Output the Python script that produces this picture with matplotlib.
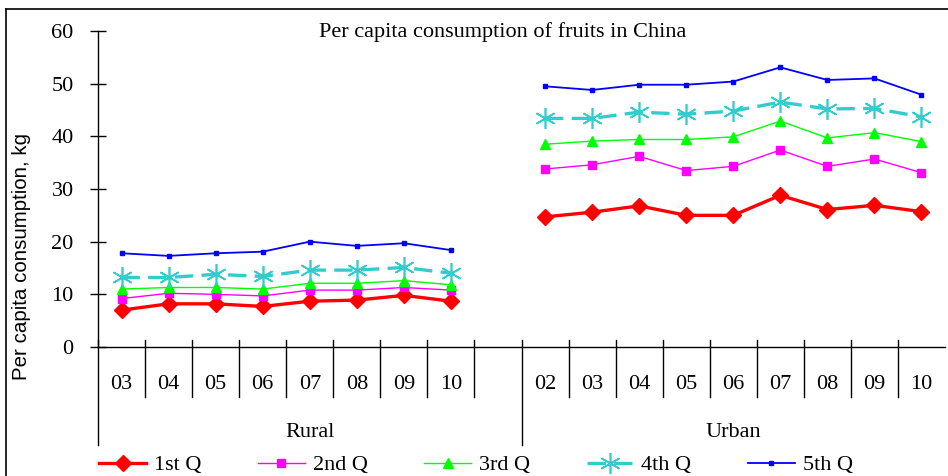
import matplotlib.pyplot as plt
from matplotlib.lines import Line2D

# Данные
rural_years = ['03', '04', '05', '06', '07', '08', '09', '10']
urban_years = ['02', '03', '04', '05', '06', '07', '08', '09', '10']
groups = ['Rural', 'Urban']
series = ['1st Q', '2nd Q', '3rd Q', '4th Q', '5th Q']

rural = {
    '1st Q': [7.0, 8.2, 8.2, 7.7, 8.7, 8.9, 9.8, 8.7],
    '2nd Q': [9.2, 10.2, 10.0, 9.7, 10.8, 10.8, 11.3, 10.8],
    '3rd Q': [11.0, 11.3, 11.3, 11.0, 12.1, 12.1, 12.6, 11.8],
    '4th Q': [13.2, 13.2, 13.8, 13.4, 14.6, 14.6, 15.1, 14.0],
    '5th Q': [17.8, 17.3, 17.8, 18.1, 20.0, 19.2, 19.7, 18.4],
}
urban = {
    '1st Q': [24.7, 25.6, 26.8, 25.0, 25.0, 28.8, 26.1, 26.9, 25.7],
    '2nd Q': [33.8, 34.6, 36.2, 33.5, 34.3, 37.4, 34.3, 35.7, 33.1],
    '3rd Q': [38.5, 39.1, 39.4, 39.4, 39.9, 42.9, 39.7, 40.7, 39.0],
    '4th Q': [43.4, 43.4, 44.6, 44.2, 44.8, 46.5, 45.2, 45.3, 43.7],
    '5th Q': [49.5, 48.8, 49.8, 49.8, 50.4, 53.1, 50.7, 51.0, 47.9],
}

styles = {
    '1st Q': dict(color='#FF0000', lw=2.4, marker='D', ms=8),
    '2nd Q': dict(color='#FF00FF', lw=1.0, marker='s', ms=6),
    '3rd Q': dict(color='#00FF00', lw=1.0, marker='^', ms=7.5),
    '4th Q': dict(color='#33CCCC', lw=2.4, marker=(6, 2, 0), ms=15, mew=1.2,
                  ls=(0, (5.5, 2.5))),
    '5th Q': dict(color='#0000FF', lw=1.3, marker='s', ms=2.5),
}

serif = 'Liberation Serif'
fs = 16

fig = plt.figure(figsize=(9.48, 4.76), dpi=100)
ax = fig.add_axes([98 / 948, 1 - 347 / 476, 847 / 948, 316 / 476])

x_rural = list(range(len(rural_years)))
x_urban = list(range(len(rural_years) + 1, len(rural_years) + 1 + len(urban_years)))

for name in series:
    st = styles[name]
    ax.plot(x_rural, rural[name], label=name, **st)
    ax.plot(x_urban, urban[name], **st)

n = len(rural_years) + 1 + len(urban_years)
ax.set_xlim(-0.5, n - 0.5)
ax.set_ylim(0, 60)
ax.set_yticks(range(0, 61, 10))
ax.set_xticks(x_rural + x_urban)
ax.set_xticklabels(rural_years + urban_years, fontfamily=serif, fontsize=fs)
ax.tick_params(axis='x', length=0, pad=20)
ax.tick_params(axis='y', direction='inout', length=11, width=1, pad=12)
for lab in ax.get_yticklabels():
    lab.set_fontfamily(serif)
    lab.set_fontsize(fs)

for s in ['top', 'right']:
    ax.spines[s].set_visible(False)
ax.spines['left'].set_linewidth(1)
ax.spines['bottom'].set_linewidth(1)

# разделители категорий
tr = ax.get_xaxis_transform()
for b in range(n):
    xb = b - 0.5
    if b == 0 or b == len(rural_years) + 1:
        ax.plot([xb, xb], [0.022, -0.31], color='black', lw=1,
                transform=tr, clip_on=False)
    else:
        ax.plot([xb, xb], [0.022, -0.158], color='black', lw=1,
                transform=tr, clip_on=False)

ax.text((len(rural_years) + 0.5) / 2 - 0.5 + 0.25, -0.269, groups[0], transform=tr,
        ha='center', va='center', fontfamily=serif, fontsize=fs)
ax.text((len(rural_years) + 1 + n - 1) / 2, -0.269, groups[1], transform=tr,
        ha='center', va='center', fontfamily=serif, fontsize=fs)

fig.text(503 / 948, 1 - 32 / 476, 'Per capita consumption of fruits in China',
         ha='center', va='center', fontfamily=serif, fontsize=fs)
fig.text(22 / 948, 1 - 257 / 476, 'Per capita consumption, kg', rotation=90,
         ha='center', va='center', fontfamily='Liberation Sans', fontsize=14.8)

fig.legend(loc='center', bbox_to_anchor=(0.502, 1 - 465 / 476), ncol=5,
           frameon=False, prop={'family': serif, 'size': fs},
           handlelength=2.1, handletextpad=0.36, columnspacing=2.55)

# рамка области диаграммы
fig.add_artist(Line2D([6 / 948, 1], [1 - 9 / 476, 1 - 9 / 476], color='black', lw=1.2))
fig.add_artist(Line2D([6 / 948, 6 / 948], [0, 1 - 9 / 476], color='black', lw=1.2))

fig.savefig('out.png', dpi=100)
